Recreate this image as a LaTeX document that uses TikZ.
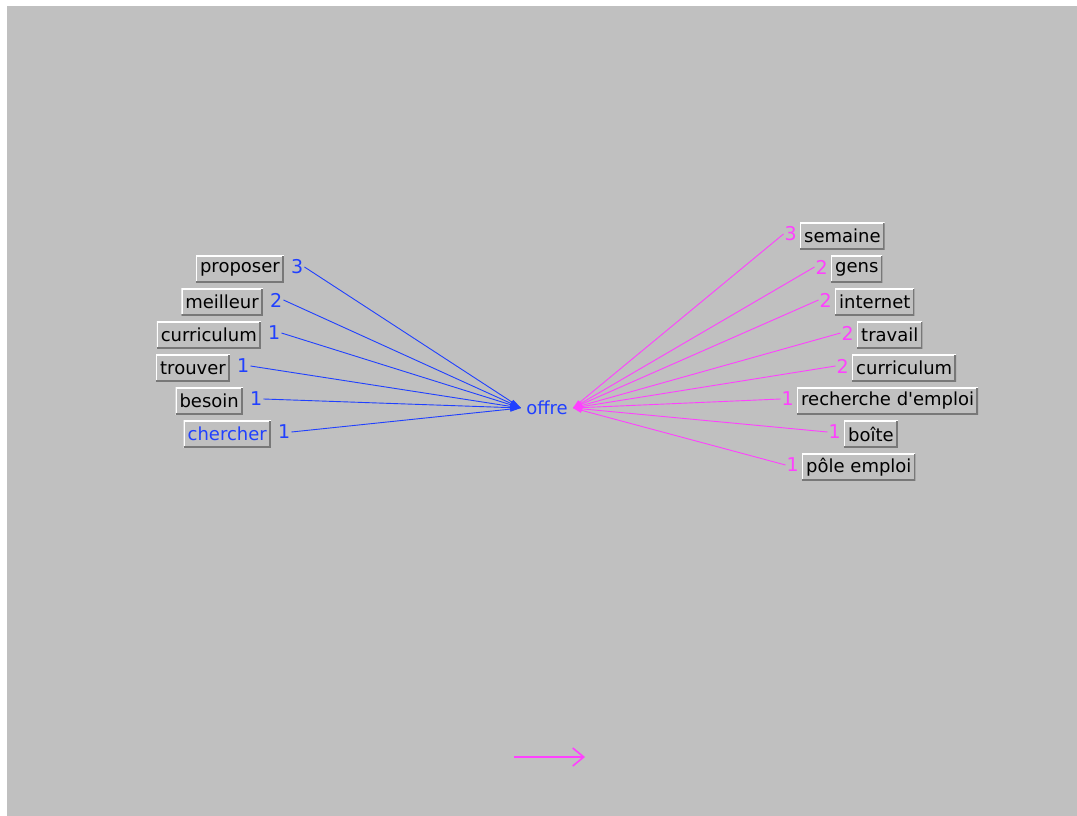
\documentclass[tikz,border=0pt]{standalone}
\usepackage{fontspec}
\setmainfont{DejaVu Sans}[Ligatures=TeXOff]
\usetikzlibrary{positioning,arrows.meta}

\definecolor{panel}{RGB}{192,192,192}
\definecolor{lblue}{RGB}{32,64,255}
\definecolor{lpink}{RGB}{255,64,255}
\definecolor{bevelgray}{RGB}{120,120,120}

\tikzset{
  word/.style={fill=panel, inner xsep=4pt, inner ysep=0pt, minimum height=27pt,
    font=\fontsize{18}{20}\selectfont,
    path picture={
      \draw[white, line width=2.5pt] (path picture bounding box.south west) |- (path picture bounding box.north east);
      \draw[bevelgray, line width=3.5pt] (path picture bounding box.south west) -| (path picture bounding box.north east);}},
  num/.style={inner sep=1pt, font=\fontsize{19}{20}\selectfont},
  bline/.style={lblue, line width=0.9pt, -{Triangle[length=11pt,width=5pt]}},
  pline/.style={lpink, line width=0.9pt, -{Triangle[length=9pt,width=5pt]}},
}

\begin{document}
\begin{tikzpicture}[x=1pt, y=-1pt]
\useasboundingbox (0,0) rectangle (1077,816);
\fill[white] (0,0) rectangle (1077,816);
\fill[panel] (7,6) rectangle (1077,816);

\node[text=lblue, inner xsep=5pt, inner ysep=1pt, font=\fontsize{18}{20}\selectfont] (offre) at (547,408) {offre};

% left side
\draw (284,269) node[word, anchor=east] (w1) {proposer};
\draw (263,302) node[word, anchor=east] (w2) {meilleur};
\draw (261,335) node[word, anchor=east] (w3) {curriculum};
\draw (230,368) node[word, anchor=east] (w4) {trouver};
\draw (243,401) node[word, anchor=east] (w5) {besoin};
\draw (271,434) node[word, anchor=east, text=lblue] (w6) {chercher};

\node[num, text=lblue, right=6pt of w1, yshift=2pt] (n1) {3};
\node[num, text=lblue, right=6pt of w2, yshift=2pt] (n2) {2};
\node[num, text=lblue, right=6pt of w3, yshift=2pt] (n3) {1};
\node[num, text=lblue, right=6pt of w4, yshift=2pt] (n4) {1};
\node[num, text=lblue, right=6pt of w5, yshift=2pt] (n5) {1};
\node[num, text=lblue, right=6pt of w6, yshift=2pt] (n6) {1};

\foreach \i in {1,...,6}
  \draw[bline] (n\i.east) -- (offre.west);

% right side
\draw (800,236) node[word, anchor=west] (e1) {semaine};
\draw (831,269) node[word, anchor=west] (e2) {gens};
\draw (835,302) node[word, anchor=west] (e3) {internet};
\draw (857,335) node[word, anchor=west] (e4) {travail};
\draw (852,368) node[word, anchor=west] (e5) {curriculum};
\draw (797,401) node[word, anchor=west] (e6) {recherche d'emploi};
\draw (844,434) node[word, anchor=west] (e7) {boîte};
\draw (802,467) node[word, anchor=west] (e8) {pôle emploi};

\node[num, text=lpink, left=2pt of e1, yshift=2pt] (m1) {3};
\node[num, text=lpink, left=2pt of e2, yshift=2pt] (m2) {2};
\node[num, text=lpink, left=2pt of e3, yshift=2pt] (m3) {2};
\node[num, text=lpink, left=2pt of e4, yshift=2pt] (m4) {2};
\node[num, text=lpink, left=2pt of e5, yshift=2pt] (m5) {2};
\node[num, text=lpink, left=2pt of e6, yshift=2pt] (m6) {1};
\node[num, text=lpink, left=2pt of e7, yshift=2pt] (m7) {1};
\node[num, text=lpink, left=2pt of e8, yshift=2pt] (m8) {1};

\foreach \i in {1,...,8}
  \draw[pline] (m\i.west) -- (offre.east);

% legend
\coordinate (lg1) at (514,757);
\coordinate (lg2) at (585,757);
\draw[lpink, line width=1.6pt, -{Straight Barb[length=11pt,width=18pt]}] (lg1) -- (lg2);
\end{tikzpicture}
\end{document}
